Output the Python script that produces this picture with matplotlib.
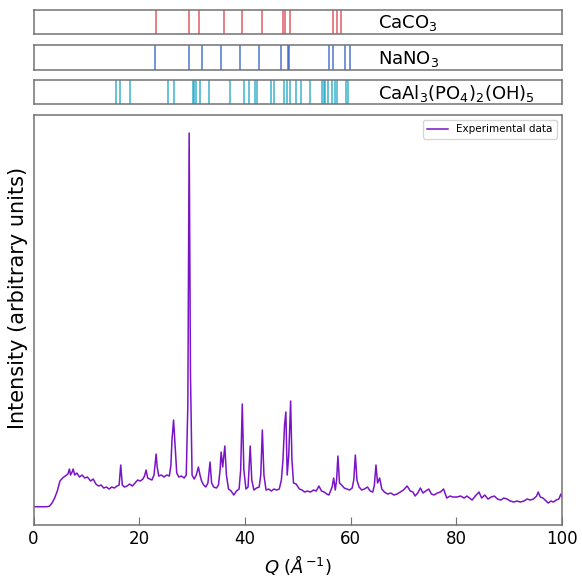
import matplotlib
matplotlib.use("Agg")
from matplotlib import pyplot as plt

# reference line positions for each phase
caco3_q = [23.1, 29.4, 31.4, 36.0, 39.4, 43.2, 47.2, 47.5, 48.6, 56.7, 57.5, 58.1]
nano3_q = [22.9, 29.4, 31.9, 35.4, 39.0, 42.6, 46.8, 48.1, 48.4, 55.9, 56.6, 58.9, 59.9]
crand_q = [15.7, 16.4, 18.3, 25.5, 26.6, 30.1, 30.4, 30.8, 31.5, 33.3, 37.2,
           39.9, 40.8, 41.9, 42.3, 44.9, 45.6, 47.4, 47.9, 48.6, 49.7, 50.7,
           52.3, 54.6, 54.9, 55.2, 55.8, 56.5, 57.1, 57.5, 59.2, 59.6]

phase_names = ["CaCO$_3$", "NaNO$_3$", "CaAl$_3$(PO$_4$)$_2$(OH)$_5$"]
phase_colors = ["#d9404c", "#2f5fc0", "#18a6c6"]

# experimental pattern
q = [0, 2.5, 3.0, 3.5, 4.0, 4.5, 5.0, 5.5, 6.0, 6.5,
     6.8, 7.0, 7.3, 7.5, 7.8, 8.2, 8.7, 9.2, 9.7, 10.2,
     10.8, 11.3, 11.8, 12.3, 12.8, 13.3, 13.8, 14.3, 14.8, 15.3,
     15.8, 16.2, 16.5, 16.8, 17.2, 17.7, 18.2, 18.7, 19.2, 19.7,
     20.2, 20.7, 21.0, 21.3, 21.6, 22.0, 22.4, 22.8, 23.0, 23.2,
     23.4, 23.7, 24.2, 24.7, 25.2, 25.7, 26.0, 26.2, 26.5, 26.8,
     27.1, 27.5, 28.0, 28.5, 28.9, 29.2, 29.45, 29.7, 30.0, 30.4,
     30.8, 31.2, 31.5, 31.8, 32.2, 32.6, 33.0, 33.4, 33.7, 34.1,
     34.6, 35.0, 35.3, 35.5, 35.8, 36.2, 36.5, 36.9, 37.4, 37.9,
     38.4, 38.9, 39.2, 39.5, 39.8, 40.2, 40.6, 41.0, 41.3, 41.7,
     42.2, 42.7, 43.0, 43.3, 43.6, 44.0, 44.5, 45.0, 45.5, 46.0,
     46.5, 46.9, 47.2, 47.5, 47.75, 48.0, 48.3, 48.65, 48.9, 49.2,
     49.7, 50.3, 50.8, 51.3, 51.8, 52.4, 53.0, 53.5, 54.0, 54.5,
     55.0, 55.5, 55.9, 56.5, 56.8, 57.1, 57.35, 57.6, 57.9, 58.3,
     58.8, 59.3, 59.8, 60.3, 60.6, 60.9, 61.2, 61.6, 62.1, 62.6,
     63.2, 63.7, 64.2, 64.5, 64.8, 65.1, 65.5, 65.9, 66.4, 67.0,
     67.6, 68.2, 68.8, 69.4, 70.0, 70.7, 71.3, 71.8, 72.2, 72.7,
     73.2, 73.7, 74.2, 74.8, 75.3, 75.8, 76.4, 77.0, 77.6, 78.2,
     78.8, 79.4, 80.1, 80.8, 81.5, 82.0, 82.5, 83.0, 83.6, 84.3,
     84.8, 85.4, 86.0, 86.6, 87.2, 87.8, 88.4, 89.0, 89.6, 90.2,
     90.9, 91.5, 92.1, 92.8, 93.4, 94.0, 94.6, 95.2, 95.5, 95.9,
     96.4, 97.0, 97.4, 97.9, 98.4, 98.9, 99.4, 99.8, 100]
intensity = [18.3, 18.3, 18.8, 22, 27, 34, 44, 47, 49, 51,
             56, 50, 53, 56, 50, 52, 48, 50, 47, 48,
             44, 46, 41, 39, 40, 37, 38, 36, 38, 37,
             39, 40, 60, 40, 38, 39, 41, 39, 42, 45,
             44, 46, 49, 55, 47, 46, 45, 50, 60, 71,
             58, 49, 50, 48, 50, 49, 60, 85, 105, 78,
             52, 48, 49, 47, 50, 120, 392, 150, 50, 46,
             50, 58, 50, 44, 40, 38, 42, 63, 42, 38,
             37, 40, 55, 73, 58, 79, 50, 36, 34, 30,
             34, 36, 55, 121, 55, 36, 38, 79, 45, 35,
             37, 38, 50, 95, 50, 35, 36, 34, 36, 35,
             36, 45, 65, 100, 113, 50, 70, 124, 65, 42,
             41, 36, 35, 33, 34, 33, 35, 34, 39, 34,
             33, 31, 30, 38, 47, 35, 45, 69, 42, 40,
             37, 36, 35, 37, 45, 70, 45, 38, 35, 36,
             38, 34, 33, 40, 60, 42, 47, 36, 33, 31,
             32, 30, 31, 33, 35, 39, 34, 33, 29, 32,
             37, 32, 34, 36, 31, 30, 32, 33, 36, 27,
             29, 28, 28, 29, 27, 29, 27, 25, 29, 33,
             27, 30, 26, 28, 29, 26, 25, 27, 26, 24,
             23, 24, 23, 24, 26, 25, 26, 29, 33, 28,
             27, 24, 22, 24, 23, 25, 26, 31, 28]
assert len(q) == len(intensity)

fig = plt.figure(figsize=(5.82, 5.76), dpi=100)
spine_col = "0.45"

# phase strips on top
strip_rects = [[0.0576, 0.941, 0.908, 0.0417],
               [0.0576, 0.8793, 0.908, 0.0425],
               [0.0576, 0.8194, 0.908, 0.0417]]
for rect, lines, name, col in zip(strip_rects, [caco3_q, nano3_q, crand_q],
                                  phase_names, phase_colors):
    ax_s = fig.add_axes(rect)
    for pos in lines:
        ax_s.axvline(pos, color=col, lw=1.1, alpha=0.85)
    ax_s.set_xlim(0, 100)
    ax_s.set_ylim(0, 1)
    ax_s.set_xticks([])
    ax_s.set_yticks([])
    for sp in ax_s.spines.values():
        sp.set_color(spine_col)
        sp.set_linewidth(1.1)
    ax_s.text(65.2, 0.45, name, fontsize=13, va="center", ha="left")

# main pattern
ax = fig.add_axes([0.0576, 0.0885, 0.908, 0.7118])
ax.plot(q, intensity, color="#7a14c6", lw=1.1, label="Experimental data")
ax.set_xlim(0, 100)
ax.set_ylim(0, 410)
ax.set_xticks([0, 20, 40, 60, 80, 100])
ax.set_yticks([])
ax.tick_params(axis="x", direction="in", length=6, labelsize=12, color=spine_col)
for sp in ax.spines.values():
    sp.set_color(spine_col)
    sp.set_linewidth(1.1)
ax.set_xlabel("$Q$ ($\\AA^{-1}$)", fontsize=13)
ax.set_ylabel("Intensity (arbitrary units)", fontsize=15)
ax.yaxis.set_label_coords(-0.01, 0.555)
ax.legend(loc="upper right", fontsize=7.5)

plt.savefig("out.png", dpi=100)
